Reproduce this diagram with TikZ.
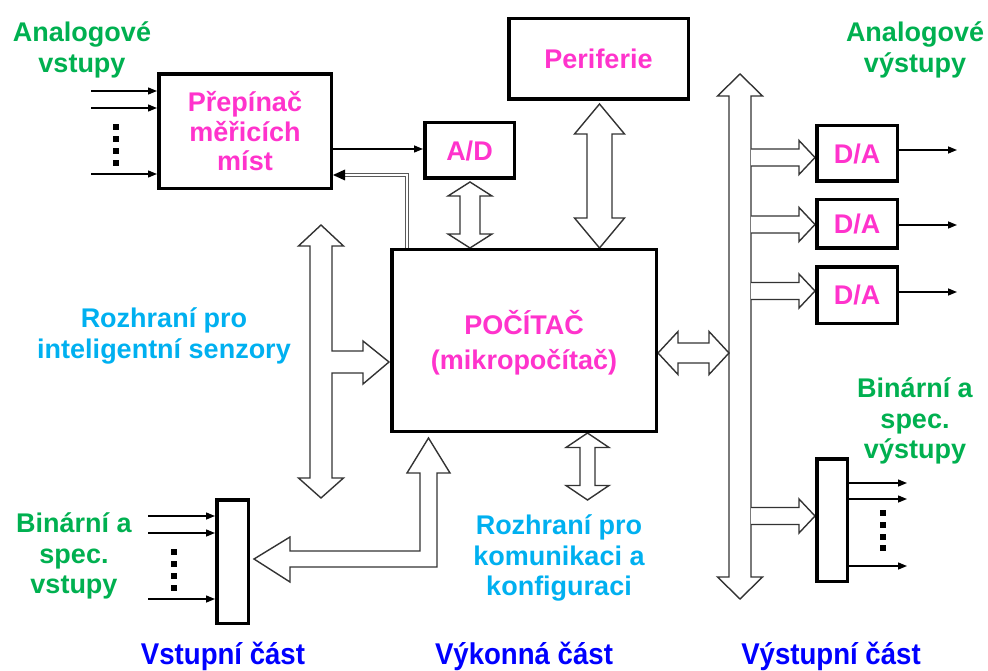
\documentclass[tikz,border=0pt]{standalone}
\usepackage{fontspec}
\setmainfont{Liberation Sans}
\newfontfamily\narrowfont{Liberation Sans}[FakeStretch=0.92]
\usetikzlibrary{arrows.meta}
\definecolor{tgreen}{HTML}{00B050}
\definecolor{tpink}{HTML}{FF33CC}
\definecolor{tcyan}{HTML}{00B0F0}
\definecolor{tblue}{HTML}{0000FF}
% vertical double hollow arrow: x, ytop, ybot, shaft half, head half, head length
\newcommand\VDArrow[6]{\draw[hollow] ({#1},{#2}) -- ({#1+#5},{#2+#6}) -- ({#1+#4},{#2+#6}) -- ({#1+#4},{#3-#6}) -- ({#1+#5},{#3-#6}) -- ({#1},{#3}) -- ({#1-#5},{#3-#6}) -- ({#1-#4},{#3-#6}) -- ({#1-#4},{#2+#6}) -- ({#1-#5},{#2+#6}) -- cycle;}
% horizontal double hollow arrow: y, xleft, xright, shaft half, head half, head length
\newcommand\HDArrow[6]{\draw[hollow] ({#2},{#1}) -- ({#2+#6},{#1-#5}) -- ({#2+#6},{#1-#4}) -- ({#3-#6},{#1-#4}) -- ({#3-#6},{#1-#5}) -- ({#3},{#1}) -- ({#3-#6},{#1+#5}) -- ({#3-#6},{#1+#4}) -- ({#2+#6},{#1+#4}) -- ({#2+#6},{#1+#5}) -- cycle;}
% branch from right bus: y centre, tip x
\newcommand\BranchArrow[2]{\draw[hollow] (751,{#1-8.5}) -- (799,{#1-8.5}) -- (799,{#1-17}) -- ({#2},{#1}) -- (799,{#1+17}) -- (799,{#1+8.5}) -- (751,{#1+8.5});}
\newcommand\DotSq[2]{\fill ({#1-2.6},{#2-2.6}) rectangle ++(5.2,5.2);}
\tikzset{
  hollow/.style={draw=black!80, line width=1.4pt, fill=white, line join=miter},
  blk/.style={draw=black, line width=3.5pt, fill=white, inner sep=0pt, align=center,
    text=tpink, font=\fontsize{27}{29.5}\selectfont\bfseries},
  sig/.style={line width=1.4pt, -{Triangle[length=9pt,width=7pt]}},
  lbl/.style={align=center, inner sep=0pt, font=\fontsize{27}{30.5}\selectfont\bfseries},
  part/.style={inner sep=0pt, text=tblue, font=\narrowfont\fontsize{30}{32}\selectfont\bfseries}
}
\begin{document}
\begin{tikzpicture}[x=1pt,y=-1pt]
\useasboundingbox (0,0) rectangle (988,671);

% ---------- hollow buses and arrows ----------
% left bus with branch to computer
\draw[hollow] (321,225) -- (343.5,246) -- (332,246) -- (332,351) -- (363,351) -- (363,341)
  -- (389,362) -- (363,384) -- (363,373) -- (332,373) -- (332,478) -- (343.5,478)
  -- (321,498) -- (298.5,478) -- (310,478) -- (310,246) -- (298.5,246) -- cycle;
% right bus
\VDArrow{740}{74}{599}{11}{22.5}{22}
\BranchArrow{157.5}{815}
\BranchArrow{224.5}{815}
\BranchArrow{291}{815}
\BranchArrow{516}{815}
% A/D <-> computer
\VDArrow{470}{182}{248}{10}{22}{14}
% periferie <-> computer
\VDArrow{599.5}{104}{248}{12.5}{25}{30}
% computer <-> bottom
\VDArrow{587.5}{433}{500}{7.5}{21.5}{14.5}
% computer <-> right bus
\HDArrow{353}{658}{729}{10}{21.5}{20}
% L-shaped arrow computer -> binary inputs
\draw[hollow] (428.5,438) -- (450,473) -- (437,473) -- (437,567) -- (290,567) -- (290,582)
  -- (254,559) -- (290,537) -- (290,551) -- (420,551) -- (420,473) -- (407,473) -- cycle;

% ---------- boxes ----------
\node[blk, minimum width=172.5pt, minimum height=114.5pt] (mux) at (245,131.5) {Přepínač\\měřicích\\míst};
\node[blk, minimum width=89.5pt, minimum height=55.5pt] (ad) at (469.5,150.5) {A/D};
\node[blk, minimum width=179.5pt, minimum height=80.5pt] (per) at (598.5,59) {Periferie};
\node[blk, minimum width=264.5pt, minimum height=181.5pt] (pc) at (524,340.5) {};
\node[text=tpink, align=center, inner sep=0pt, font=\fontsize{27}{35}\selectfont\bfseries] (pct) at (524,342.5) {POČÍTAČ\\(mikropočítač)};
\node[blk, minimum width=80.5pt, minimum height=55.5pt] (da1) at (857,153.5) {D/A};
\node[blk, minimum width=80.5pt, minimum height=48.5pt] (da2) at (857,224) {D/A};
\node[blk, minimum width=80.5pt, minimum height=56.5pt] (da3) at (857,295) {D/A};
\node[blk, minimum width=31.5pt, minimum height=123.5pt] (bin) at (232.5,561.5) {};
\node[blk, minimum width=30.5pt, minimum height=122.5pt] (bout) at (832,520) {};

% ---------- signal arrows ----------
% analog inputs
\coordinate (ai1) at (91,91);
\coordinate (ai2) at (91,108);
\coordinate (ai3) at (91,174);
\draw[sig] (ai1) -- (ai1 -| mux.west);
\draw[sig] (ai2) -- (ai2 -| mux.west);
\draw[sig] (ai3) -- (ai3 -| mux.west);
\DotSq{116}{127}\DotSq{116}{139}\DotSq{116}{151}\DotSq{116}{163}
% mux -> A/D
\coordinate (mo) at (333,149);
\draw[sig] (mo) -- (mo -| ad.west);
% feedback double line computer -> mux
\coordinate (fb1) at (407,248);
\coordinate (fb2) at (407,175);
\coordinate (fb3) at (343,175);
\draw[draw=black!65, double=white, line width=0.8pt, double distance=1.6pt] (fb1) -- (fb2) -- (fb3);
\fill (fb3 -| mux.east) -- ++(12,-5.5) -- ++(0,11) -- cycle;
% D/A outputs
\coordinate (do1) at (957,150);
\coordinate (do2) at (957,225);
\coordinate (do3) at (957,292);
\draw[sig] (do1 -| da1.east) -- (do1);
\draw[sig] (do2 -| da2.east) -- (do2);
\draw[sig] (do3 -| da3.east) -- (do3);
% binary inputs
\coordinate (bi1) at (148,516);
\coordinate (bi2) at (148,533);
\coordinate (bi3) at (148,599);
\draw[sig] (bi1) -- (bi1 -| bin.west);
\draw[sig] (bi2) -- (bi2 -| bin.west);
\draw[sig] (bi3) -- (bi3 -| bin.west);
\DotSq{174}{552}\DotSq{174}{564}\DotSq{174}{576}\DotSq{174}{588}
% binary outputs
\coordinate (bo1) at (907,483);
\coordinate (bo2) at (907,499);
\coordinate (bo3) at (907,566);
\draw[sig] (bo1 -| bout.east) -- (bo1);
\draw[sig] (bo2 -| bout.east) -- (bo2);
\draw[sig] (bo3 -| bout.east) -- (bo3);
\DotSq{883}{513}\DotSq{883}{525}\DotSq{883}{537}\DotSq{883}{548}

% ---------- labels ----------
\node[lbl, text=tgreen] (lai) at (82,50) {Analogové\\vstupy};
\node[lbl, text=tgreen] (lao) at (915,50) {Analogové\\výstupy};
\node[lbl, text=tgreen] (lbo) at (915,421) {Binární a\\spec.\\výstupy};
\node[lbl, text=tgreen] (lbi) at (74,556) {Binární a\\spec.\\vstupy};
\node[lbl, text=tcyan] (lis) at (164,336) {Rozhraní pro\\inteligentní senzory};
\node[lbl, text=tcyan] (lkk) at (559,558) {Rozhraní pro\\komunikaci a\\konfiguraci};
\node[part] (p1) at (223,656) {Vstupní část};
\node[part] (p2) at (524,656) {Výkonná část};
\node[part] (p3) at (831,656) {Výstupní část};
\end{tikzpicture}
\end{document}
